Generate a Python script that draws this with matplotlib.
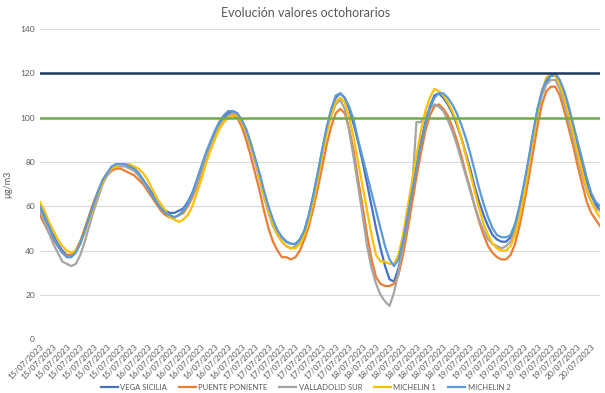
import matplotlib
matplotlib.use("Agg")
import matplotlib.pyplot as plt

plt.rcParams['font.family'] = ['Lato', 'DejaVu Sans']

# etiquetas del eje X: una cada 3 horas
fechas = ["15/07/2023"] * 8 + ["16/07/2023"] * 8 + ["17/07/2023"] * 8 + \
         ["18/07/2023"] * 8 + ["19/07/2023"] * 8 + ["20/07/2023"] * 2

vega_sicilia = [59, 55, 51, 47, 43, 40, 38, 38, 40, 44, 49, 55, 61, 66, 71, 75, 77, 79, 79, 79,
                78, 77, 75, 72, 69, 66, 62, 59, 58, 57, 57, 58, 59, 62, 66, 71, 77, 83, 88, 93,
                97, 100, 102, 103, 102, 99, 94, 88, 81, 74, 66, 59, 53, 49, 46, 44, 43, 43, 45, 49,
                56, 65, 75, 85, 95, 103, 109, 111, 109, 104, 97, 89, 80, 70, 60, 50, 41, 33, 27, 26,
                32, 42, 54, 66, 78, 89, 98, 105, 110, 111, 109, 106, 102, 97, 91, 84, 77, 69, 62, 56,
                51, 47, 45, 44, 44, 46, 51, 59, 69, 80, 92, 103, 111, 116, 119, 119, 116, 110, 103, 95,
                87, 79, 71, 65, 61, 58]

puente_poniente = [56, 52, 48, 45, 42, 39, 38, 38, 40, 44, 50, 56, 62, 67, 71, 74, 76, 77, 77, 76,
                   75, 74, 72, 70, 67, 64, 61, 58, 56, 55, 55, 56, 57, 60, 64, 69, 75, 81, 86, 91,
                   95, 98, 100, 101, 100, 96, 90, 83, 75, 67, 58, 50, 44, 40, 37, 37, 36, 37, 40, 45,
                   51, 59, 68, 78, 88, 96, 102, 104, 102, 95, 85, 72, 60, 47, 36, 28, 25, 24, 24, 25,
                   29, 38, 49, 61, 73, 84, 94, 101, 105, 106, 104, 101, 96, 90, 83, 75, 68, 60, 53, 47,
                   42, 39, 37, 36, 36, 38, 43, 51, 61, 72, 84, 96, 106, 112, 114, 114, 110, 103, 95, 87,
                   78, 70, 62, 57, 54, 51]

valladolid_sur = [58, 53, 48, 43, 39, 35, 34, 33, 34, 38, 44, 51, 58, 64, 70, 74, 77, 78, 78, 78,
                  77, 76, 74, 71, 68, 65, 62, 59, 57, 56, 55, 56, 58, 61, 65, 70, 76, 82, 87, 92,
                  96, 99, 101, 102, 101, 98, 93, 87, 80, 72, 64, 57, 51, 47, 44, 42, 41, 42, 44, 48,
                  55, 64, 74, 84, 94, 101, 106, 108, 104, 94, 82, 69, 56, 42, 32, 25, 20, 17, 15, 21,
                  30, 42, 54, 66, 98, 98, 101, 104, 106, 105, 103, 99, 94, 88, 81, 74, 67, 60, 54, 49,
                  45, 43, 42, 41, 42, 44, 49, 57, 67, 78, 90, 101, 110, 115, 117, 117, 113, 106, 98, 90,
                  82, 74, 67, 62, 59, 58]

michelin_1 = [62, 58, 53, 49, 45, 42, 40, 39, 40, 43, 48, 54, 60, 66, 71, 75, 77, 78, 79, 79,
              79, 78, 77, 75, 72, 68, 64, 61, 58, 55, 54, 53, 54, 56, 60, 66, 72, 79, 85, 90,
              95, 98, 100, 101, 101, 98, 94, 88, 81, 73, 65, 58, 52, 47, 44, 42, 41, 41, 43, 47,
              53, 62, 72, 83, 93, 101, 107, 109, 107, 100, 91, 80, 69, 58, 47, 38, 35, 35, 34, 34,
              38, 47, 59, 71, 83, 94, 103, 109, 113, 112, 110, 107, 103, 98, 91, 83, 75, 67, 59, 52,
              47, 43, 41, 40, 40, 42, 47, 55, 65, 77, 90, 102, 112, 118, 120, 119, 115, 109, 101, 93,
              84, 76, 68, 62, 58, 55]

michelin_2 = [60, 56, 51, 46, 42, 39, 37, 37, 39, 43, 49, 55, 61, 67, 72, 75, 78, 79, 79, 79,
              78, 77, 75, 72, 69, 65, 62, 59, 57, 56, 55, 56, 58, 61, 66, 72, 78, 84, 89, 94,
              98, 101, 103, 103, 102, 99, 95, 89, 82, 75, 67, 60, 54, 49, 46, 44, 43, 43, 45, 49,
              56, 65, 75, 86, 96, 104, 110, 111, 109, 105, 99, 90, 82, 74, 66, 58, 50, 42, 36, 33,
              36, 44, 55, 66, 77, 88, 97, 104, 109, 111, 111, 109, 106, 102, 97, 91, 84, 76, 68, 61,
              55, 50, 47, 46, 46, 47, 52, 60, 70, 81, 93, 104, 112, 117, 119, 120, 117, 112, 105, 97,
              89, 81, 73, 66, 62, 60]

series = [("VEGA SICILIA", vega_sicilia, "#4472C4"),
          ("PUENTE PONIENTE", puente_poniente, "#ED7D31"),
          ("VALLADOLID SUR", valladolid_sur, "#A5A5A5"),
          ("MICHELIN 1", michelin_1, "#FFC000"),
          ("MICHELIN 2", michelin_2, "#5B9BD5")]

umbral_alto = 120
umbral_bajo = 100

fig = plt.figure(figsize=(6.05, 3.93), dpi=100)
ax = fig.add_axes([0.066, 0.137, 0.926, 0.789])

x = list(range(len(vega_sicilia)))
for nombre, valores, color in series:
    ax.plot(x, valores, color=color, lw=1.6, label=nombre)

ax.axhline(umbral_alto, color="#203864", lw=1.8)
ax.axhline(umbral_bajo, color="#70AD47", lw=1.8)

ax.set_xlim(0, len(x) - 1)
ax.set_ylim(0, 140)
ax.set_yticks(range(0, 141, 20))
ax.set_xticks(range(0, 3 * len(fechas), 3))
ax.set_xticklabels(fechas, rotation=45, ha="right", va="top", rotation_mode="anchor")
ax.tick_params(axis="both", length=0, labelsize=6, colors="#595959")
ax.tick_params(axis="x", pad=3)
ax.grid(axis="y", color="#D9D9D9", lw=0.8)
ax.set_axisbelow(True)
for s in ax.spines.values():
    s.set_visible(False)

ax.set_ylabel("µg/m3", fontsize=6.5, color="#595959", labelpad=6)
fig.text(0.505, 0.968, "Evolución valores octohorarios", ha="center", va="center",
         fontsize=9, color="#595959")

fig.legend(loc="center", bbox_to_anchor=(0.505, 0.014), ncol=5, frameon=False,
           fontsize=5.5, labelcolor="#595959", handlelength=2.2, columnspacing=1.6,
           handletextpad=0.3)

fig.savefig("out.png", dpi=100)
